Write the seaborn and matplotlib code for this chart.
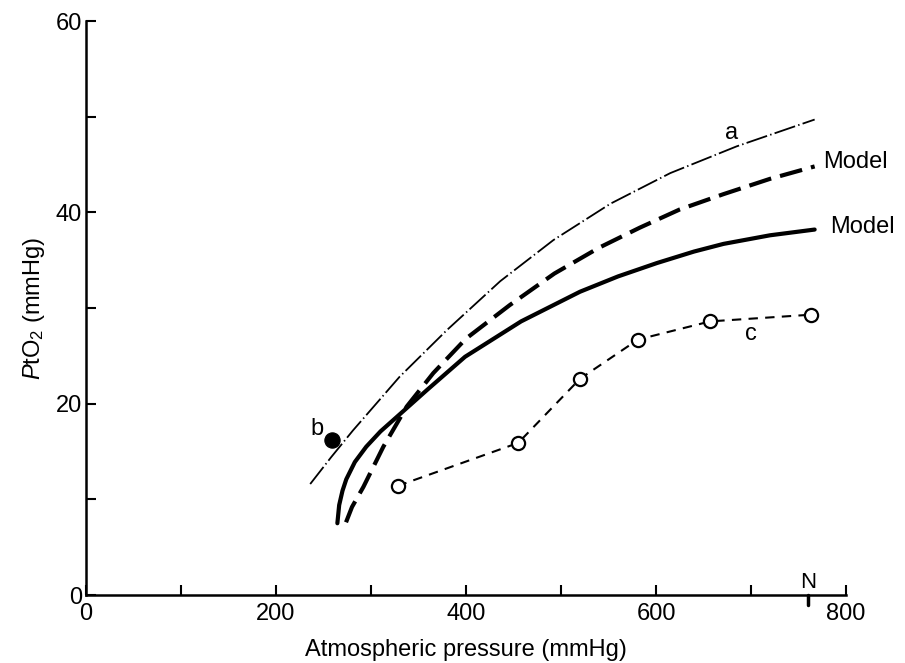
import matplotlib
matplotlib.use("Agg")
import matplotlib.pyplot as plt
import seaborn as sns
import pandas as pd

# curve a (thin dash-dot)
a_x = [236, 258, 281, 330, 380, 436, 492, 552, 615, 685, 767]
a_y = [11.6, 14.4, 17.2, 22.8, 27.7, 32.8, 37.1, 40.9, 44.1, 46.9, 49.7]

# model, dashed
model_dash_x = [273.7, 280, 292, 313, 337.6, 365.6, 400, 446, 493, 540, 583, 625, 671, 720, 767]
model_dash_y = [7.6, 9.2, 11.3, 15.5, 19.7, 23.2, 26.8, 30.3, 33.6, 36.3, 38.4, 40.3, 41.9, 43.5, 44.8]

# model, solid
model_solid_x = [264.6, 266.5, 270, 274, 283, 295, 310, 327, 358.6, 399, 458, 520, 560, 601, 640, 671, 720, 767]
model_solid_y = [7.5, 9.4, 10.9, 12.1, 13.9, 15.5, 17.1, 18.6, 21.4, 24.9, 28.6, 31.7, 33.3, 34.7, 35.9, 36.7, 37.6, 38.2]

# curve c (measured points)
c_x = [328, 455, 520, 581, 657, 763]
c_y = [11.4, 15.9, 22.6, 26.7, 28.6, 29.3]

# point b (summit)
b_x = [259]
b_y = [16.2]

N_X = 760

x_ticks = list(range(0, 801, 100))
x_tick_labels = ["0", "", "200", "", "400", "", "600", "", "800"]
y_ticks = list(range(0, 61, 10))
y_tick_labels = ["0", "", "20", "", "40", "", "60"]

sns.set_style("ticks")
plt.rcParams["font.family"] = ["Liberation Sans", "DejaVu Sans"]
plt.rcParams["mathtext.fontset"] = "custom"
plt.rcParams["mathtext.rm"] = "Liberation Sans"
plt.rcParams["mathtext.it"] = "Liberation Sans:italic"
plt.rcParams["text.color"] = "black"
plt.rcParams["axes.labelcolor"] = "black"

fig = plt.figure(figsize=(9.05, 6.63), dpi=100)
ax = fig.add_axes([86 / 905, 1 - 595 / 663, 760 / 905, 574 / 663])

sns.lineplot(x=a_x, y=a_y, ax=ax, sort=False, color="black", lw=1.3,
             linestyle=(0, (12, 1.8, 0.8, 1.8)))
sns.lineplot(x=model_dash_x, y=model_dash_y, ax=ax, sort=False, color="black",
             lw=3.0, linestyle=(0, (5.5, 2.2)))
sns.lineplot(x=model_solid_x, y=model_solid_y, ax=ax, sort=False, color="black",
             lw=3.0)
sns.lineplot(x=c_x, y=c_y, ax=ax, sort=False, color="black", lw=1.5,
             linestyle=(0, (4.5, 3.5)), marker="o", markersize=9.5,
             markerfacecolor="white", markeredgecolor="black", markeredgewidth=1.6)
sns.scatterplot(x=b_x, y=b_y, ax=ax, s=120, color="black", edgecolor="black",
                zorder=5)

# labels on the curves
ax.text(680, 48.3, "a", fontsize=17, ha="center", va="center")
ax.text(776, 45.3, "Model", fontsize=17, ha="left", va="center")
ax.text(783, 38.5, "Model", fontsize=17, ha="left", va="center")
ax.text(700, 27.3, "c", fontsize=17, ha="center", va="center")
ax.text(243, 17.4, "b", fontsize=17, ha="center", va="center")
ax.text(N_X, 1.3, "N", fontsize=16, ha="center", va="center")
ax.plot([N_X, N_X], [0, -1.0], color="black", lw=2.5, clip_on=False)

ax.set_xlim(0, 800)
ax.set_ylim(0, 60)
ax.set_xticks(x_ticks)
ax.set_xticklabels(x_tick_labels)
ax.set_yticks(y_ticks)
ax.set_yticklabels(y_tick_labels)
ax.tick_params(axis="both", direction="in", length=7, width=1.5, labelsize=17,
               colors="black")
ax.tick_params(axis="x", pad=6)
ax.tick_params(axis="y", pad=3)

ax.set_xlabel("Atmospheric pressure (mmHg)", fontsize=17, labelpad=10)
ax.set_ylabel(r"$P$tO$_2$ (mmHg)", fontsize=17, labelpad=6)

sns.despine(ax=ax)
for side in ["left", "bottom"]:
    ax.spines[side].set_linewidth(1.8)
    ax.spines[side].set_color("black")

fig.savefig("out.png", dpi=100)
